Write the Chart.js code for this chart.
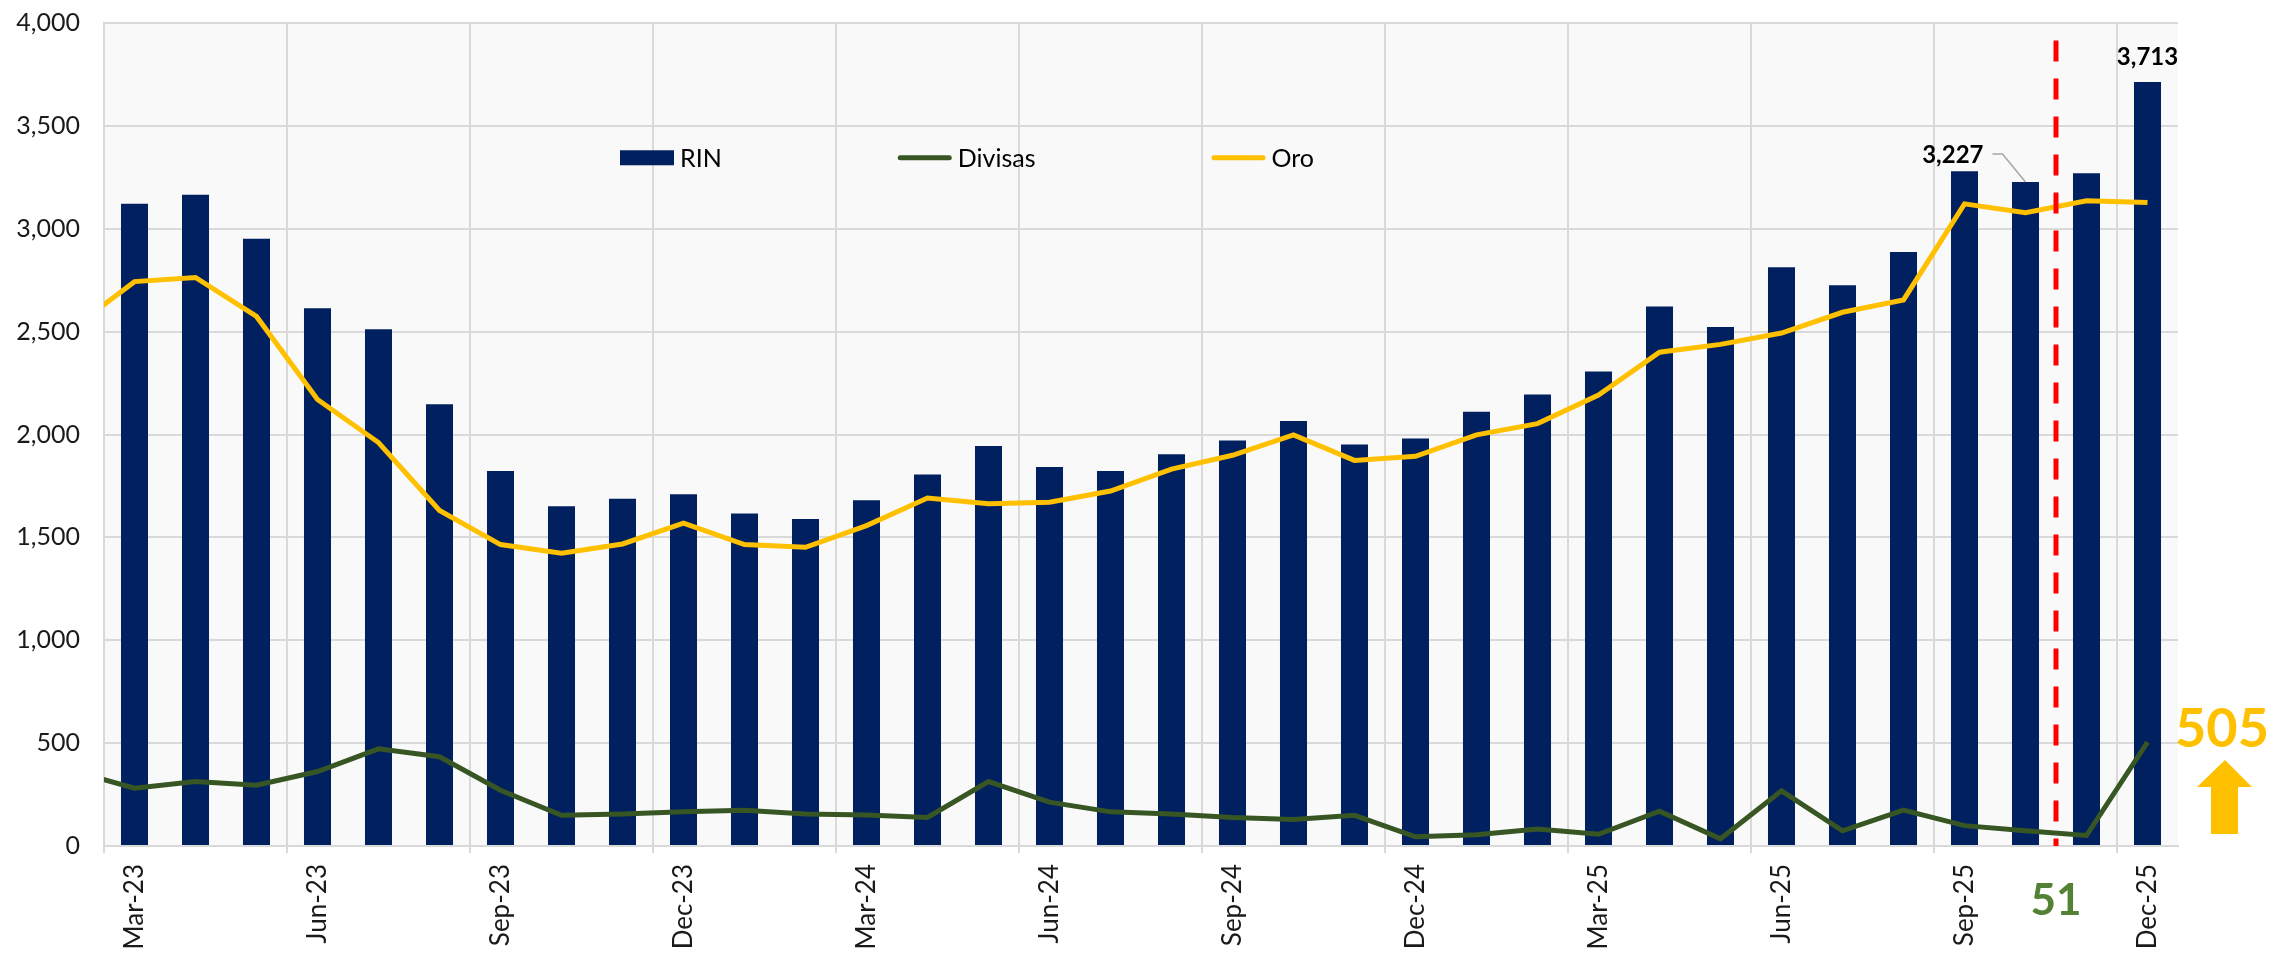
<!DOCTYPE html>
<html>
<head>
<meta charset="utf-8">
<script src="https://cdn.jsdelivr.net/npm/chart.js@4.4.1/dist/chart.umd.min.js"></script>
<style>
  html, body { margin: 0; padding: 0; background: #fff; }
</style>
</head>
<body>
<canvas id="chart" width="2269" height="958"></canvas>
<script>
const months = [
  "Mar-23", "Apr-23", "May-23", "Jun-23", "Jul-23", "Aug-23", "Sep-23", "Oct-23", "Nov-23", "Dec-23",
  "Jan-24", "Feb-24", "Mar-24", "Apr-24", "May-24", "Jun-24", "Jul-24", "Aug-24", "Sep-24", "Oct-24", "Nov-24", "Dec-24",
  "Jan-25", "Feb-25", "Mar-25", "Apr-25", "May-25", "Jun-25", "Jul-25", "Aug-25", "Sep-25", "Oct-25", "Nov-25", "Dec-25",
];
const rin = [
  3121, 3165, 2952, 2614, 2512, 2147, 1822, 1651, 1688, 1710,
  1616, 1589, 1681, 1805, 1944, 1842, 1822, 1904, 1971, 2066, 1951, 1981,
  2110, 2195, 2306, 2622, 2522, 2813, 2726, 2887, 3280, 3227, 3270, 3713,
];
// lines start one month earlier (Feb-23), only the tail of that segment shows at the left edge
const divisas = [
  365,
  281, 313, 295, 362, 472, 434, 271, 149, 156, 166,
  174, 156, 151, 139, 313, 213, 166, 156, 139, 129, 149, 45,
  55, 82, 57, 169, 35, 268, 74, 174, 99, 74, 51, 505,
];
const oro = [
  2520,
  2743, 2763, 2574, 2170, 1961, 1631, 1465, 1423, 1468, 1569,
  1465, 1452, 1557, 1691, 1663, 1671, 1725, 1832, 1899, 1998, 1874, 1894,
  1998, 2053, 2192, 2400, 2438, 2493, 2594, 2654, 3121, 3078, 3136, 3128,
];
const yMax = 4000;
const yStep = 500;
const labelEvery = 3;
const cutIndex = 31.5; // red dashed line, between Oct-25 and Nov-25

const NAVY = "#002060";
const GREEN = "#375623";
const GOLD = "#FFC000";
const GRID = "#D9D9D9";
const TEXT = "#1A1A1A";
const FONT = "Lato, 'Open Sans', sans-serif";

const extras = {
  id: "extras",
  beforeDraw(chart) {
    const {ctx, chartArea: a} = chart;
    ctx.save();
    ctx.fillStyle = "#F9F9F9";
    ctx.fillRect(a.left, a.top, a.right - a.left, a.bottom - a.top);
    ctx.restore();
  },
  afterDatasetsDraw(chart) {
    const {ctx, chartArea: a} = chart;
    const x = chart.scales.x;
    const xl = chart.scales.xl;
    const y = chart.scales.y;
    ctx.save();

    // red dashed cut line
    const cx = xl.getPixelForValue(cutIndex);
    ctx.strokeStyle = "#FF0000";
    ctx.lineWidth = 5;
    ctx.setLineDash([21, 17]);
    ctx.beginPath();
    ctx.moveTo(cx, y.getPixelForValue(3915));
    ctx.lineTo(cx, a.bottom);
    ctx.stroke();
    ctx.setLineDash([]);

    // value labels on the bars
    ctx.fillStyle = "#000";
    ctx.font = "bold 24px " + FONT;
    ctx.textBaseline = "middle";
    const last = rin.length - 1;
    ctx.textAlign = "center";
    ctx.fillText(rin[last].toLocaleString("en-US"), x.getPixelForValue(last), y.getPixelForValue(rin[last]) - 25);

    const oct = last - 2;
    const bx = x.getPixelForValue(oct);
    const by = y.getPixelForValue(rin[oct]);
    ctx.textAlign = "right";
    ctx.fillText(rin[oct].toLocaleString("en-US"), bx - 42, by - 27);
    ctx.strokeStyle = "#A6A6A6";
    ctx.lineWidth = 1.5;
    ctx.beginPath();
    ctx.moveTo(bx - 33, by - 28);
    ctx.lineTo(bx - 23, by - 28);
    ctx.lineTo(bx, by);
    ctx.stroke();

    // Divisas callouts
    ctx.textAlign = "center";
    ctx.fillStyle = "#548235";
    ctx.font = "bold 44px " + FONT;
    ctx.fillText(String(divisas[divisas.length - 2]), cx, a.bottom + 55);

    const gx = a.right + 44;
    const gy = y.getPixelForValue(divisas[divisas.length - 1]) - 13;
    ctx.fillStyle = GOLD;
    ctx.font = "bold 54px " + FONT;
    ctx.fillText(String(divisas[divisas.length - 1]), gx, gy);

    // up arrow
    const ax = a.right + 47;
    const top = gy + 31;
    ctx.beginPath();
    ctx.moveTo(ax, top);
    ctx.lineTo(ax + 27, top + 27);
    ctx.lineTo(ax + 13, top + 27);
    ctx.lineTo(ax + 13, top + 74);
    ctx.lineTo(ax - 14, top + 74);
    ctx.lineTo(ax - 14, top + 27);
    ctx.lineTo(ax - 28, top + 27);
    ctx.closePath();
    ctx.fill();

    // legend inside the plot
    let lx = a.left + 516;
    const ly = y.getPixelForValue(3345);
    ctx.font = "25px " + FONT;
    ctx.textAlign = "left";
    chart.data.datasets.forEach((ds) => {
      if (ds.type === "bar") {
        ctx.fillStyle = ds.backgroundColor;
        ctx.fillRect(lx, ly - 7.5, 54, 15);
      } else {
        ctx.strokeStyle = ds.borderColor;
        ctx.lineWidth = 5;
        ctx.lineCap = "round";
        ctx.beginPath();
        ctx.moveTo(lx + 2.5, ly);
        ctx.lineTo(lx + 51.5, ly);
        ctx.stroke();
      }
      ctx.fillStyle = "#000";
      ctx.fillText(ds.label, lx + 60, ly + 1);
      lx += 60 + ctx.measureText(ds.label).width + 176;
    });

    ctx.restore();
  },
};

new Chart(document.getElementById("chart"), {
  type: "bar",
  data: {
    labels: months,
    datasets: [
      {
        type: "bar",
        label: "RIN",
        data: rin,
        backgroundColor: NAVY,
        grouped: false,
        categoryPercentage: 1,
        barPercentage: 0.443,
        xAxisID: "x",
        order: 3,
      },
      {
        type: "line",
        label: "Divisas",
        data: divisas.map((v, i) => ({x: i - 1, y: v})),
        borderColor: GREEN,
        borderWidth: 5,
        pointRadius: 0,
        xAxisID: "xl",
        order: 1,
      },
      {
        type: "line",
        label: "Oro",
        data: oro.map((v, i) => ({x: i - 1, y: v})),
        borderColor: GOLD,
        borderWidth: 5,
        pointRadius: 0,
        xAxisID: "xl",
        order: 2,
      },
    ],
  },
  options: {
    responsive: false,
    animation: false,
    layout: {padding: {top: 23, right: 91, bottom: 0, left: 0}},
    plugins: {
      legend: {display: false},
      tooltip: {enabled: false},
    },
    scales: {
      x: {
        type: "category",
        offset: true,
        grid: {
          offset: true,
          lineWidth: 2,
          tickLength: 7,
          color: (c) => (c.index % labelEvery === 0 ? GRID : "rgba(0,0,0,0)"),
        },
        border: {color: GRID, width: 2},
        ticks: {
          autoSkip: false,
          minRotation: 90,
          maxRotation: 90,
          padding: 11,
          color: TEXT,
          font: {family: FONT, size: 26},
          callback: (v, i) => (i % labelEvery === 0 ? months[i] : ""),
        },
        afterFit: (s) => { s.height = 112; },
      },
      xl: {
        type: "linear",
        display: false,
        offset: false,
        grid: {offset: false},
        min: -0.5,
        max: months.length - 0.5,
      },
      y: {
        min: 0,
        max: yMax,
        grid: {color: GRID, lineWidth: 2, drawTicks: false},
        border: {color: GRID, width: 2},
        ticks: {
          stepSize: yStep,
          padding: 24,
          color: TEXT,
          font: {family: FONT, size: 25},
          callback: (v) => v.toLocaleString("en-US"),
        },
        afterFit: (s) => {
          s.width = 104;
          s.paddingTop = 8;
          s.paddingBottom = 8;
        },
      },
    },
  },
  plugins: [extras],
});
</script>
</body>
</html>
